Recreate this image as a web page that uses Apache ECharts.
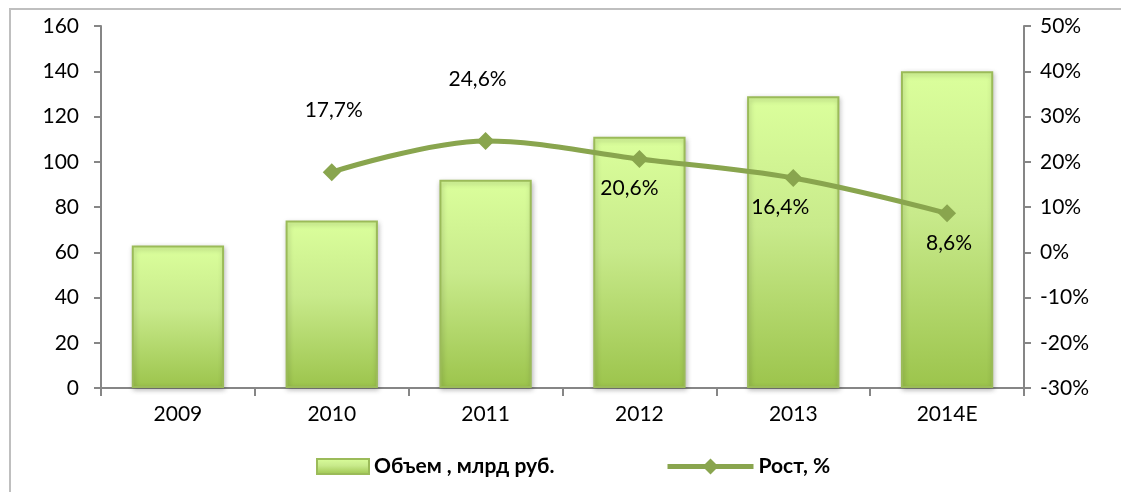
<!DOCTYPE html>
<html>
<head>
<meta charset="utf-8">
<script src="https://cdn.jsdelivr.net/npm/echarts@6/dist/echarts.min.js"></script>
<style>
  html, body { margin: 0; padding: 0; background: #fff; }
  #chart { width: 1121px; height: 492px; }
</style>
</head>
<body>
<div id="chart"></div>
<script>
// данные с диаграммы
const years = ['2009', '2010', '2011', '2012', '2013', '2014E'];
const volume = [63, 74, 92, 111, 129, 140];
const growth = [null, 17.7, 24.6, 20.6, 16.4, 8.6];
const growthLabels = ['', '17,7%', '24,6%', '20,6%', '16,4%', '8,6%'];
// где стоит подпись: сверху или снизу от точки
const labelSide = ['', 'top', 'top', 'bottom', 'bottom', 'bottom'];
const labelShift = [0, 2, -8, -10, -13, 2];

const font = 'Lato, "Open Sans", sans-serif';
const axisGray = '#868686';
const lineGreen = '#89a54e';

const myChart = echarts.init(document.getElementById('chart'));

const lineData = growth.map((v, i) => {
  if (v === null) return null;
  const up = labelSide[i] === 'top';
  return {
    value: v,
    label: {
      show: true,
      position: up ? 'top' : 'bottom',
      distance: up ? 42 : 10,
      offset: [labelShift[i], 0],
      formatter: growthLabels[i],
    },
  };
});

const legendText = { fontSize: 21, fontWeight: 'bold', color: '#000', fontFamily: font };

const option = {
  backgroundColor: '#fff',
  animation: false,
  textStyle: { fontFamily: font },
  graphic: [
    {
      type: 'rect',
      shape: { x: 10, y: 9, width: 1120, height: 490 },
      style: { fill: 'none', stroke: '#bfbfbf', lineWidth: 2 },
      silent: true,
    },
  ],
  grid: { left: 101, right: 97, top: 26, bottom: 104 },
  legend: [
    {
      left: 311,
      top: 451,
      itemWidth: 52,
      itemHeight: 15,
      itemGap: 6,
      textStyle: legendText,
      data: [{ name: 'Объем , млрд руб.', icon: 'rect' }],
    },
    {
      left: 660,
      top: 451,
      itemWidth: 86,
      itemHeight: 20,
      itemGap: 6,
      textStyle: legendText,
      data: [{ name: 'Рост, %', lineStyle: { width: 5, color: lineGreen } }],
    },
  ],
  xAxis: {
    type: 'category',
    data: years,
    axisLine: { lineStyle: { color: axisGray, width: 2 } },
    axisTick: { show: true, length: 8, lineStyle: { color: axisGray, width: 2 } },
    axisLabel: { color: '#000', fontSize: 21, margin: 16 },
  },
  yAxis: [
    {
      type: 'value',
      min: 0,
      max: 160,
      interval: 20,
      splitLine: { show: false },
      axisLine: { show: true, lineStyle: { color: axisGray, width: 2 } },
      axisTick: { show: true, length: 7, lineStyle: { color: axisGray, width: 2 } },
      axisLabel: { color: '#000', fontSize: 21, margin: 22 },
    },
    {
      type: 'value',
      min: -30,
      max: 50,
      interval: 10,
      splitLine: { show: false },
      axisLine: { show: true, lineStyle: { color: axisGray, width: 2 } },
      axisTick: { show: true, length: 7, lineStyle: { color: axisGray, width: 2 } },
      axisLabel: { color: '#000', fontSize: 21, margin: 16, formatter: '{value}%' },
    },
  ],
  series: [
    {
      name: 'Объем , млрд руб.',
      type: 'bar',
      data: volume,
      barWidth: '60%',
      itemStyle: {
        color: new echarts.graphic.LinearGradient(0, 0, 0, 1, [
          { offset: 0, color: '#dbff9c' },
          { offset: 0.45, color: '#c8ea8b' },
          { offset: 1, color: '#9cc44c' },
        ]),
        borderColor: '#9bbb59',
        borderWidth: 2,
        shadowColor: 'rgba(0,0,0,0.25)',
        shadowBlur: 5,
        shadowOffsetX: 1,
        shadowOffsetY: 2,
      },
    },
    {
      name: 'Рост, %',
      type: 'line',
      yAxisIndex: 1,
      smooth: 0.35,
      connectNulls: false,
      symbol: 'diamond',
      symbolSize: 18,
      lineStyle: { color: lineGreen, width: 5 },
      itemStyle: { color: lineGreen },
      label: { color: '#000', fontSize: 21, fontFamily: font },
      data: lineData,
    },
  ],
};

myChart.setOption(option);
</script>
</body>
</html>
